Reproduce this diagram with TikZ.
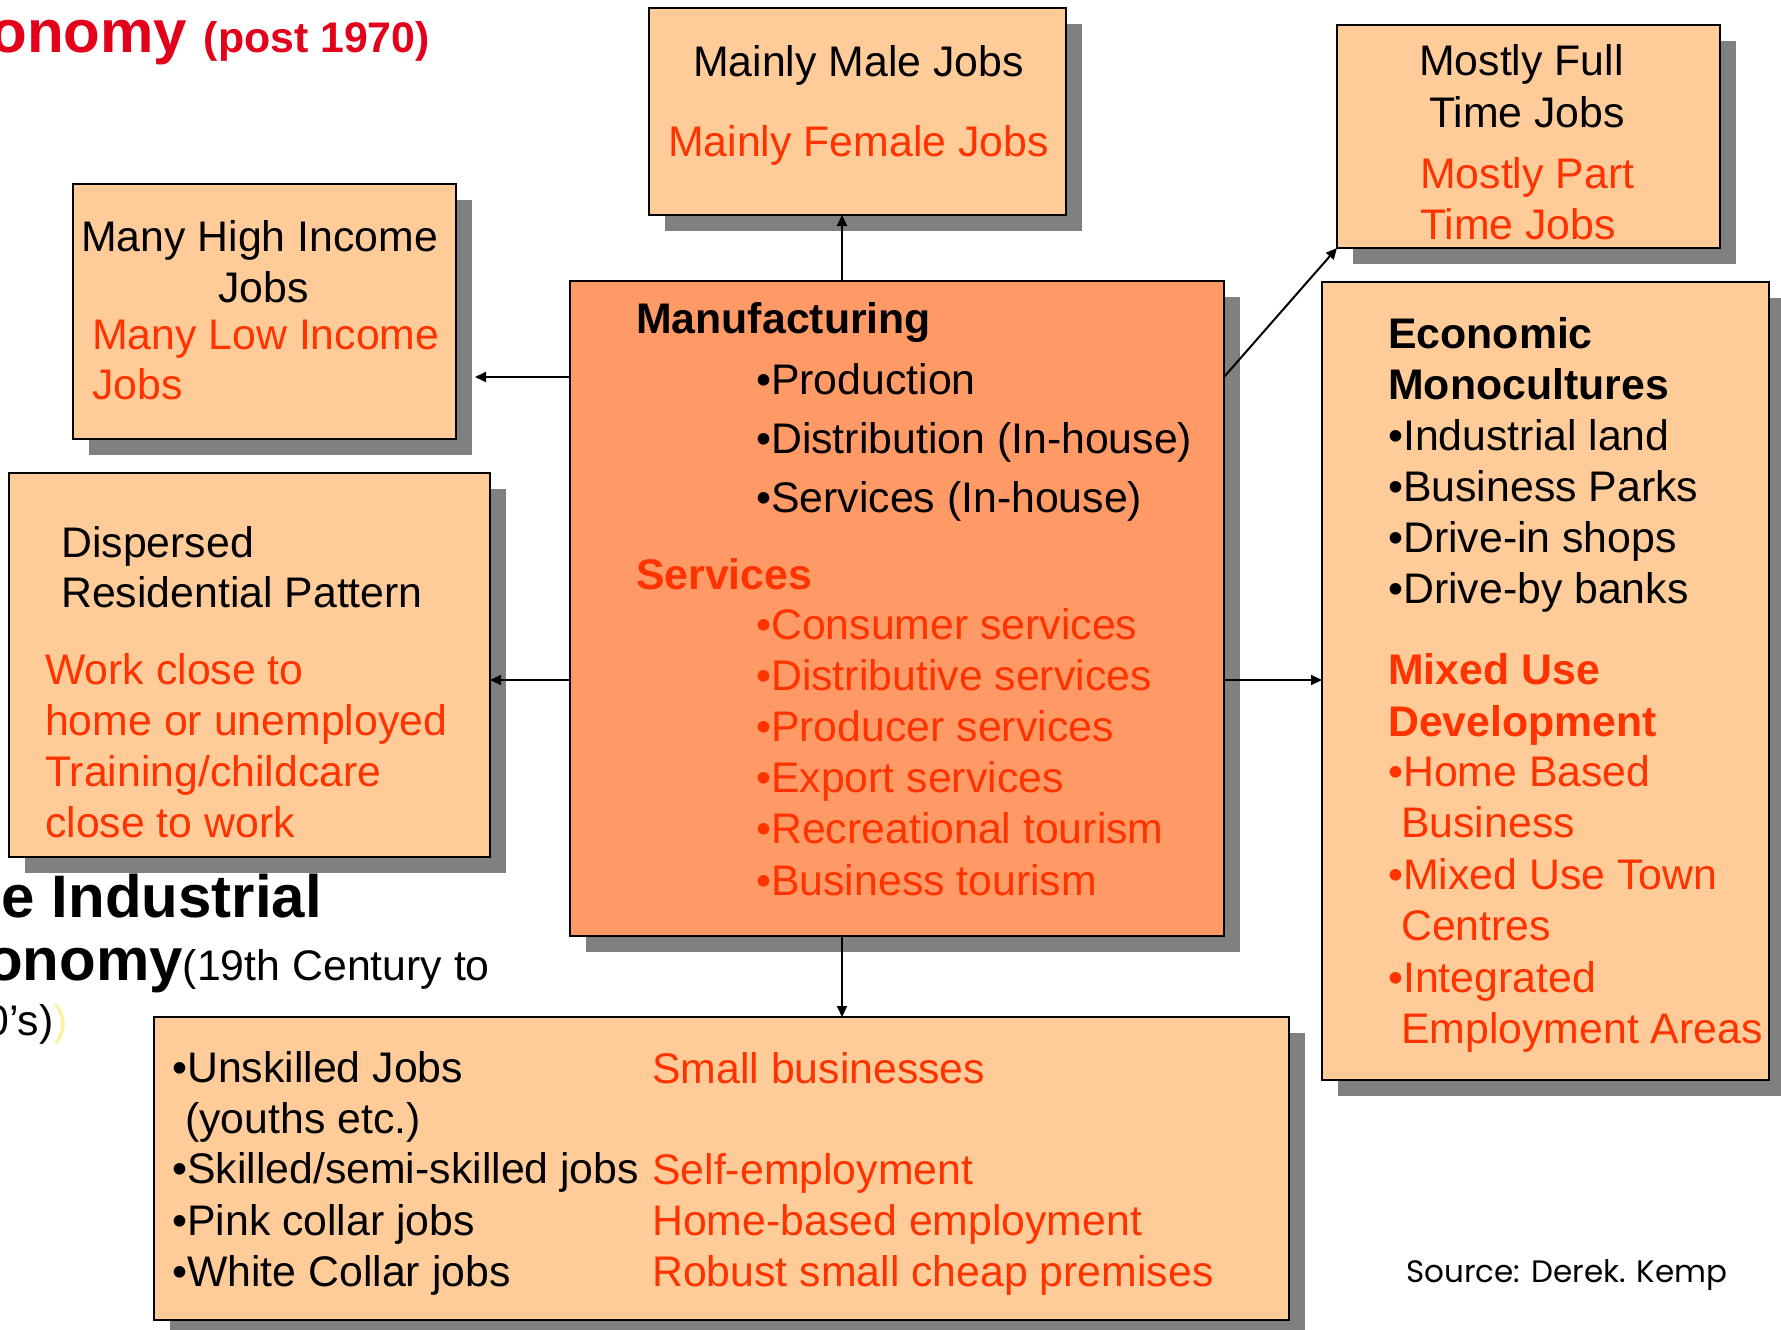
\documentclass[tikz,border=0pt]{standalone}
\usepackage{fontspec}
\setmainfont{Liberation Sans}
\newfontfamily\sourcefont{Poppins}
\usepackage{tikz}
\usetikzlibrary{arrows.meta,shadows}
\definecolor{BoxPeach}{HTML}{FFCC99}
\definecolor{HubOrange}{HTML}{FF9966}
\definecolor{ShadowGrey}{HTML}{808080}
\definecolor{ListRed}{HTML}{FF3300}
\definecolor{TitleRed}{HTML}{E3001B}
\definecolor{PaleYellow}{HTML}{FFF0A0}
\tikzset{
  panel/.style={draw,line width=2.5pt,fill=BoxPeach,anchor=north west,inner sep=0pt,outer sep=0pt,
    drop shadow={shadow xshift=16pt,shadow yshift=-16pt,fill=ShadowGrey,opacity=1}},
  txt/.style={anchor=base west,inner sep=0pt,font=\fontsize{42.8}{50}\selectfont},
  redtxt/.style={txt,text=ListRed},
  boldtxt/.style={txt,font=\fontsize{42.8}{50}\selectfont\bfseries},
  link/.style={line width=2pt,-{Triangle[length=11pt,width=10pt]}},
}

\begin{document}
\begin{tikzpicture}[x=1pt,y=-1pt]
\path[use as bounding box,fill=white] (0,0) rectangle (1781,1330);
\clip (0,0) rectangle (1781,1330);

% panels
\node[panel,minimum width=417pt,minimum height=207pt] (gender) at (649,8) {};
\node[panel,minimum width=383pt,minimum height=223pt] (hours) at (1337,25) {};
\node[panel,minimum width=383pt,minimum height=255pt] (income) at (73,184) {};
\node[panel,minimum width=481pt,minimum height=384pt] (housing) at (9,473) {};
\node[panel,fill=HubOrange,minimum width=654pt,minimum height=655pt] (hub) at (570,281) {};
\node[panel,minimum width=447pt,minimum height=798pt] (mono) at (1322,282) {};
\node[panel,minimum width=1135pt,minimum height=303pt] (smallbiz) at (154,1017) {};

% connectors
\coordinate (colx) at (842,0);
\coordinate (rowa) at (0,377);
\coordinate (rowb) at (0,680);
\draw[link] (hub.north -| colx) -- (gender.south -| colx);
\draw[link] (hub.south -| colx) -- (smallbiz.north -| colx);
\draw[link,shorten >=19pt] (hub.west |- rowa) -- (income.east |- rowa);
\draw[link] (hub.west |- rowb) -- (housing.east |- rowb);
\draw[link] (hub.east |- rowb) -- (mono.west |- rowb);
\draw[link] (hub.east |- rowa) -- (hours.south west);

% titles cut by the page edge
\node[anchor=base east,inner sep=0pt,text=TitleRed,font=\bfseries] (ttop) at (430,53)
  {{\fontsize{60}{72}\selectfont onomy }{\fontsize{42.8}{50}\selectfont(post 1970)}};
\node[anchor=base east,inner sep=0pt,font=\fontsize{60}{72}\selectfont\bfseries] (tind) at (322,917) {e Industrial};
\node[anchor=base east,inner sep=0pt] (teco) at (490,980)
  {{\fontsize{60}{72}\selectfont\bfseries onomy}{\fontsize{42.8}{50}\selectfont(19th Century to}};
\node[anchor=base east,inner sep=0pt,font=\fontsize{42.8}{50}\selectfont] (tera) at (68,1035) {0’s)\textcolor{PaleYellow}{)}};

\node[txt] (male) at (693,77) {Mainly Male Jobs};
\node[redtxt] (female) at (668,156) {Mainly Female Jobs};

\node[txt] (full1) at (1419,76) {Mostly Full};
\node[txt] (full2) at (1429,127) {Time Jobs};
\node[redtxt] (part1) at (1420,188) {Mostly Part};
\node[redtxt] (part2) at (1420,239) {Time Jobs};

\node[txt] (high1) at (81,251) {Many High Income};
\node[txt] (high2) at (218,302) {Jobs};
\node[redtxt] (low1) at (92,349) {Many Low Income};
\node[redtxt] (low2) at (92,399) {Jobs};

\node[txt] (disp1) at (61,557) {Dispersed};
\node[txt] (disp2) at (61,607) {Residential Pattern};
\foreach \t [count=\i from 0] in {Work close to,home or unemployed,Training/childcare,close to work}
  \node[redtxt] (near\i) at (45,684+51*\i) {\t};

\node[boldtxt] (manuf) at (636,333) {Manufacturing};
\foreach \t [count=\i from 0] in {Production,Distribution (In-house),Services (In-house)}
  \node[txt] (mf\i) at (756,394+59*\i) {•\t};
\node[boldtxt,text=ListRed] (serv) at (636,589) {Services};
\foreach \t [count=\i from 0] in {Consumer services,Distributive services,Producer services,Export services,Recreational tourism,Business tourism}
  \node[redtxt] (sv\i) at (756,639+51.2*\i) {•\t};

\node[boldtxt] (econ1) at (1388,348) {Economic};
\node[boldtxt] (econ2) at (1388,399) {Monocultures};
\foreach \t [count=\i from 0] in {Industrial land,Business Parks,Drive-in shops,Drive-by banks}
  \node[txt] (mc\i) at (1388,450+51.3*\i) {•\t};
\node[boldtxt,text=ListRed] (mix1) at (1388,684) {Mixed Use};
\node[boldtxt,text=ListRed] (mix2) at (1388,736) {Development};
\node[redtxt] (mx0) at (1388,786) {•Home Based};
\node[redtxt] (mx1) at (1401,837) {Business};
\node[redtxt] (mx2) at (1388,889) {•Mixed Use Town};
\node[redtxt] (mx3) at (1401,940) {Centres};
\node[redtxt] (mx4) at (1388,992) {•Integrated};
\node[redtxt] (mx5) at (1401,1043) {Employment Areas};

\node[txt] (job0) at (172,1082) {•Unskilled Jobs};
\node[txt] (job1) at (185,1133) {(youths etc.)};
\node[txt] (job2) at (172,1183) {•Skilled/semi-skilled jobs};
\node[txt] (job3) at (172,1235) {•Pink collar jobs};
\node[txt] (job4) at (172,1286) {•White Collar jobs};
\node[redtxt] (biz0) at (652,1083) {Small businesses};
\node[redtxt] (biz1) at (652,1184) {Self-employment};
\node[redtxt] (biz2) at (652,1235) {Home-based employment};
\node[redtxt] (biz3) at (652,1286) {Robust small cheap premises};

\node[anchor=base,inner sep=0pt,font=\sourcefont\fontsize{31}{36}\selectfont] (credit) at (1567,1282) {Source: Derek. Kemp};
\end{tikzpicture}
\end{document}
